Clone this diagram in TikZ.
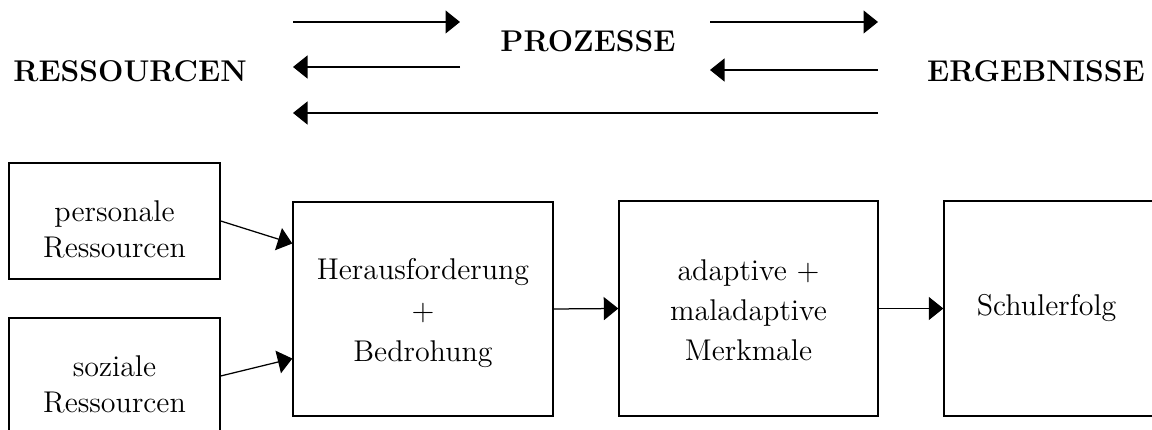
\documentclass[tikz,border=0pt]{standalone}
\usetikzlibrary{arrows.meta,calc}
\begin{document}
\begin{tikzpicture}[x=0.4pt,y=-0.4pt,
  txt/.style={font=\fontsize{12}{14.4}\selectfont, inner sep=0pt, align=center},
  box/.style={draw, line width=0.55pt, inner sep=0pt},
  head/.style={font=\fontsize{12}{14.4}\selectfont\bfseries, inner sep=0pt},
  flow/.style={line width=0.5pt, -{Triangle[length=5.8pt,width=9.2pt]}}]
\useasboundingbox (0,0) rectangle (1152,430);
\clip (0,0) rectangle (1152,430);

% headings
\node[head] (res) at (130,71) {RESSOURCEN};
\node[head] (pro) at (588,41) {PROZESSE};
\node[head] (erg) at (1036,71) {ERGEBNISSE};

% end points of the arrows in the header
\coordinate (l1a) at (293,22);  \coordinate (l1b) at (460,22);
\coordinate (r1a) at (710,22);  \coordinate (r1b) at (878,22);
\coordinate (l2a) at (460,67);  \coordinate (l2b) at (293,67);
\coordinate (r2a) at (878,70);  \coordinate (r2b) at (710,70);
\coordinate (l3a) at (878,113); \coordinate (l3b) at (293,113);

\draw[flow] (l1a) -- (l1b);
\draw[flow] (r1a) -- (r1b);
\draw[flow] (l2a) -- (l2b);
\draw[flow] (r2a) -- (r2b);
\draw[flow] (l3a) -- (l3b);

% boxes
\node[box, minimum width=84.4pt, minimum height=46.4pt] (pr) at (114.5,221) {};
\node[box, minimum width=84.4pt, minimum height=46.4pt] (sr) at (114.5,376) {};
\node[box, minimum width=104pt, minimum height=85.6pt] (hf) at (423,309) {};
\node[box, minimum width=103.6pt, minimum height=86pt] (am) at (748.5,308.5) {};
\node[box, minimum width=103.6pt, minimum height=86pt] (se) at (1073.5,308.5) {};

% box texts
\node[txt] (pr-t) at ([yshift=-3.2pt]pr.center) {personale\\Ressourcen};
\node[txt] (sr-t) at ([yshift=-3.4pt]sr.center) {soziale\\Ressourcen};
\node[txt, font=\fontsize{12}{16.4}\selectfont] (hf-t) at ([yshift=-1.6pt]hf.center)
  {Herausforderung\\$+$\\Bedrohung};
\node[txt, font=\fontsize{12}{16}\selectfont] (am-t) at ([yshift=-0.6pt]am.center)
  {adaptive $+$\\maladaptive\\Merkmale};
\node[txt, anchor=west] (se-t) at ([xshift=13.2pt]se.west) {Schulerfolg};

% connectors
\draw[flow] (pr.east) -- ($(hf.north west)!0.196!(hf.south west)$);
\draw[flow] (sr.east) -- ($(hf.north west)!0.73!(hf.south west)$);
\draw[flow] (hf.east) -- (am.west);
\draw[flow] (am.east) -- (se.west);
\end{tikzpicture}
\end{document}
